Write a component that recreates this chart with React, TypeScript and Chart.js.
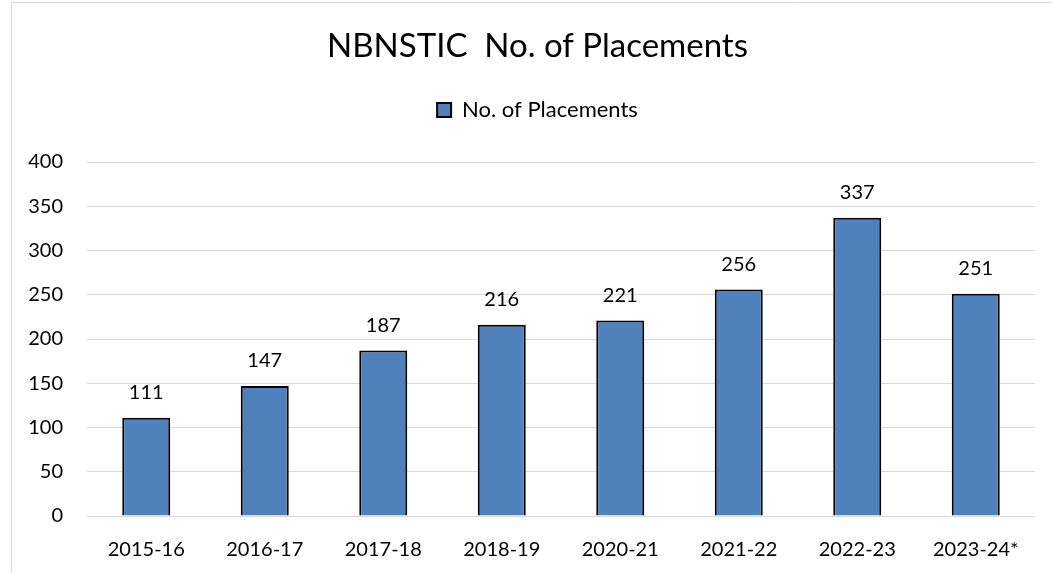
import React, { useEffect, useRef } from "react";
import { Chart, registerables } from "chart.js";

Chart.register(...registerables);

const categories = ["2015-16", "2016-17", "2017-18", "2018-19", "2020-21", "2021-22", "2022-23", "2023-24*"];
const placements = [111, 147, 187, 216, 221, 256, 337, 251];
const seriesLabel = "No. of Placements";
const chartTitle = "NBNSTIC  No. of Placements";

const FONT = "Lato, 'Open Sans', sans-serif";

const framePlugin = {
  id: "frame",
  beforeDraw(chart: any) {
    const ctx = chart.ctx;
    ctx.save();
    ctx.fillStyle = "#fff";
    ctx.fillRect(0, 0, chart.width, chart.height);
    ctx.strokeStyle = "#d9d9d9";
    ctx.lineWidth = 1;
    ctx.beginPath();
    ctx.moveTo(11.5, chart.height + 5);
    ctx.lineTo(11.5, 2.5);
    ctx.lineTo(chart.width + 5, 2.5);
    ctx.stroke();
    ctx.restore();
  },
};

const legendSpacePlugin = {
  id: "legendSpace",
  beforeLayout(chart: any) {
    const lg = chart.legend;
    if (lg && !lg.__patched) {
      const orig = lg.fit;
      lg.fit = function () {
        orig.call(this);
        this.height += 31;
      };
      lg.__patched = true;
    }
  },
  afterLayout(chart: any) {
    if (chart.titleBlock) chart.titleBlock.left = 40;
    if (chart.legend) chart.legend.left = 40;
  },
};

const dataLabelPlugin = {
  id: "dataLabels",
  afterDatasetsDraw(chart: any) {
    const ctx = chart.ctx;
    const meta = chart.getDatasetMeta(0);
    const data = chart.data.datasets[0].data;
    ctx.save();
    ctx.font = `20px ${FONT}`;
    ctx.fillStyle = "#000";
    ctx.textAlign = "center";
    ctx.textBaseline = "middle";
    meta.data.forEach((bar: any, i: number) => {
      ctx.fillText(String(data[i]), bar.x, bar.y - 25);
    });
    ctx.restore();
  },
};

export default function App() {
  const ref = useRef<HTMLCanvasElement>(null);
  useEffect(() => {
    if (!ref.current) return;
    const chart = new Chart(ref.current, {
      type: "bar",
      data: {
        labels: categories,
        datasets: [
          {
            label: seriesLabel,
            data: placements,
            backgroundColor: "#4F81BD",
            borderColor: "#000",
            borderWidth: 2,
            barPercentage: 0.405,
            categoryPercentage: 1,
          },
        ],
      },
      options: {
        responsive: false,
        animation: false,
        layout: { padding: { left: 0, right: 17, top: 0, bottom: 0 } },
        plugins: {
          title: {
            display: true,
            text: chartTitle,
            color: "#000",
            font: { family: FONT, size: 33, weight: "normal" },
            padding: { top: 26.2, bottom: 23.2 },
          },
          legend: {
            display: true,
            position: "top",
            labels: {
              color: "#000",
              font: { family: FONT, size: 22 },
              boxWidth: 14,
              boxHeight: 14,
              padding: 10,
            },
          },
          tooltip: { enabled: false },
        },
        scales: {
          x: {
            grid: { display: false },
            border: { display: false },
            ticks: {
              color: "#000",
              font: { family: FONT, size: 20 },
              padding: 14,
              maxRotation: 0,
            },
            afterFit(scale: any) {
              scale.height = 57;
            },
          },
          y: {
            min: 0,
            max: 400,
            ticks: {
              stepSize: 50,
              color: "#000",
              font: { family: FONT, size: 20 },
              padding: 24,
            },
            grid: { color: "#d9d9d9", lineWidth: 1, drawTicks: false },
            border: { display: false },
            afterFit(scale: any) {
              scale.width = 87;
            },
          },
        },
      },
      plugins: [framePlugin, legendSpacePlugin, dataLabelPlugin],
    });
    return () => chart.destroy();
  }, []);
  return (
    <canvas
      ref={ref}
      width={1052}
      height={573}
      style={{ position: "absolute", left: 0, top: 0, display: "block" }}
    />
  );
}
